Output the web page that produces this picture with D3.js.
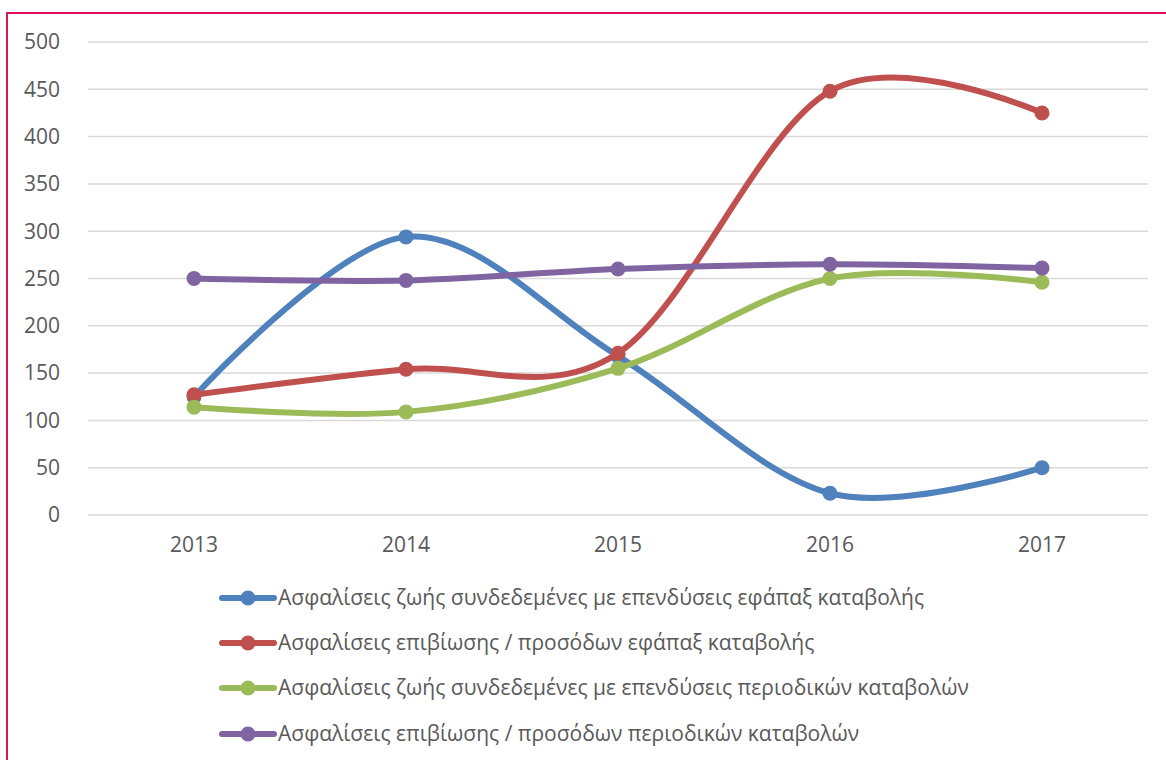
<!DOCTYPE html>
<html>
<head>
<meta charset="utf-8">
<script src="https://cdn.jsdelivr.net/npm/d3@7"></script>
<style>
  body { margin: 0; background: #fff; }
  text { font-family: "Open Sans", sans-serif; fill: #595959; }
</style>
</head>
<body>
<script>
// chart data
const years = ["2013", "2014", "2015", "2016", "2017"];
const seriesNames = [
    "Ασφαλίσεις ζωής συνδεδεμένες με επενδύσεις εφάπαξ καταβολής",
    "Ασφαλίσεις επιβίωσης / προσόδων εφάπαξ καταβολής",
    "Ασφαλίσεις ζωής συνδεδεμένες με επενδύσεις περιοδικών καταβολών",
    "Ασφαλίσεις επιβίωσης / προσόδων περιοδικών καταβολών"
];
const linkedSingle = [125, 294, 168, 23, 50];
const annuitySingle = [127, 154, 171, 448, 425];
const linkedPeriodic = [114, 109, 155, 250, 246];
const annuityPeriodic = [250, 248, 260, 265, 261];
const yTicks = [0, 50, 100, 150, 200, 250, 300, 350, 400, 450, 500];
const colors = ["#4F81BD", "#C0504D", "#9BBB59", "#8064A2"];

const W = 1166, H = 760;
const plot = { left: 88, right: 1148, top: 42, bottom: 515 };

const svg = d3.select("body").append("svg")
    .attr("width", W)
    .attr("height", H);

// outer frame (only left and top edges are inside the picture)
svg.append("path")
    .attr("d", `M7,${H} L7,13 L${W},13`)
    .attr("fill", "none")
    .attr("stroke", "#E0115F")
    .attr("stroke-width", 2);

const x = d3.scaleBand().domain(years).range([plot.left, plot.right]);
const y = d3.scaleLinear().domain([0, 500]).range([plot.bottom, plot.top]);

// gridlines
svg.append("g")
    .selectAll("line")
    .data(yTicks)
    .join("line")
    .attr("x1", plot.left)
    .attr("x2", plot.right)
    .attr("y1", d => y(d))
    .attr("y2", d => y(d))
    .attr("stroke", "#d9d9d9")
    .attr("stroke-width", 1.5);

// y labels
svg.append("g")
    .selectAll("text")
    .data(yTicks)
    .join("text")
    .attr("x", 60)
    .attr("y", d => y(d))
    .attr("dy", "0.35em")
    .attr("text-anchor", "end")
    .style("font-size", "21px")
    .text(d => d);

// x labels
svg.append("g")
    .selectAll("text")
    .data(years)
    .join("text")
    .attr("x", d => x(d) + x.bandwidth() / 2)
    .attr("y", 545)
    .attr("dy", "0.35em")
    .attr("text-anchor", "middle")
    .style("font-size", "21px")
    .text(d => d);

const series = [linkedSingle, annuitySingle, linkedPeriodic, annuityPeriodic].map((vals, i) => ({
    name: seriesNames[i],
    color: colors[i],
    points: vals.map((v, j) => ({ year: years[j], value: v }))
}));

const line = d3.line()
    .x(d => x(d.year) + x.bandwidth() / 2)
    .y(d => y(d.value))
    .curve(d3.curveCardinal.tension(0));

const sg = svg.append("g").selectAll("g").data(series).join("g");

sg.append("path")
    .attr("d", d => line(d.points))
    .attr("fill", "none")
    .attr("stroke", d => d.color)
    .attr("stroke-width", 6)
    .attr("stroke-linecap", "round");

sg.selectAll("circle")
    .data(d => d.points.map(p => ({ ...p, color: d.color })))
    .join("circle")
    .attr("cx", d => x(d.year) + x.bandwidth() / 2)
    .attr("cy", d => y(d.value))
    .attr("r", 7.5)
    .attr("fill", d => d.color);

// legend
const legendRows = [598, 643, 688, 734];
const lg = svg.append("g").selectAll("g").data(series).join("g")
    .attr("transform", (d, i) => `translate(0,${legendRows[i]})`);

lg.append("line")
    .attr("x1", 222).attr("x2", 274)
    .attr("stroke", d => d.color)
    .attr("stroke-width", 6)
    .attr("stroke-linecap", "round");

lg.append("circle")
    .attr("cx", 248)
    .attr("r", 7.5)
    .attr("fill", d => d.color);

lg.append("text")
    .attr("x", 278)
    .attr("dy", "0.35em")
    .style("font-size", "21px")
    .text(d => d.name);
</script>
</body>
</html>
